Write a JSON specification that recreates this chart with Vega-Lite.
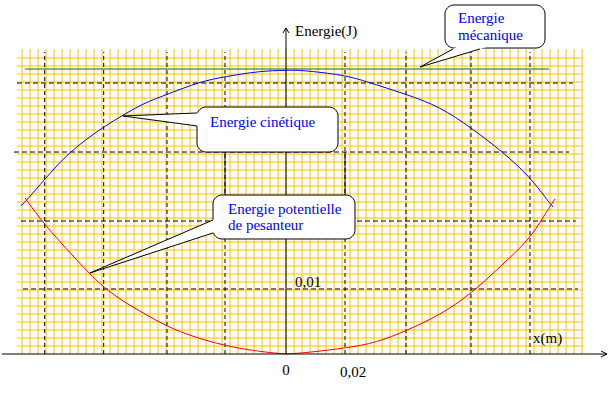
{
  "$schema": "https://vega.github.io/schema/vega-lite/v6.json",
  "width": 608,
  "height": 396,
  "autosize": "none",
  "padding": 0,
  "background": "white",
  "config": {"view": {"stroke": null}, "axis": {"disable": true}},
  "resolve": {"scale": {"color": "independent", "strokeWidth": "independent"}},
  "datasets": {
    "gridV": [
      {"x": -0.0825}, {"x": -0.08}, {"x": -0.0775}, {"x": -0.075}, {"x": -0.0725}, {"x": -0.07}, {"x": -0.0675}, {"x": -0.065}, {"x": -0.0625}, {"x": -0.06},
      {"x": -0.0575}, {"x": -0.055}, {"x": -0.0525}, {"x": -0.05}, {"x": -0.0475}, {"x": -0.045}, {"x": -0.0425}, {"x": -0.04}, {"x": -0.0375}, {"x": -0.035},
      {"x": -0.0325}, {"x": -0.03}, {"x": -0.0275}, {"x": -0.025}, {"x": -0.0225}, {"x": -0.02}, {"x": -0.0175}, {"x": -0.015}, {"x": -0.0125}, {"x": -0.01},
      {"x": -0.0075}, {"x": -0.005}, {"x": -0.0025}, {"x": 0}, {"x": 0.0025}, {"x": 0.005}, {"x": 0.0075}, {"x": 0.01}, {"x": 0.0125}, {"x": 0.015},
      {"x": 0.0175}, {"x": 0.02}, {"x": 0.0225}, {"x": 0.025}, {"x": 0.0275}, {"x": 0.03}, {"x": 0.0325}, {"x": 0.035}, {"x": 0.0375}, {"x": 0.04},
      {"x": 0.0425}, {"x": 0.045}, {"x": 0.0475}, {"x": 0.05}, {"x": 0.0525}, {"x": 0.055}, {"x": 0.0575}, {"x": 0.06}, {"x": 0.0625}, {"x": 0.065},
      {"x": 0.0675}, {"x": 0.07}, {"x": 0.0725}, {"x": 0.075}, {"x": 0.0775}, {"x": 0.08}, {"x": 0.0825}, {"x": 0.085}, {"x": 0.0875}, {"x": 0.09},
      {"x": 0.0925}
    ],
    "gridH": [
      {"y": 0.00125}, {"y": 0.0025}, {"y": 0.00375}, {"y": 0.005}, {"y": 0.00625}, {"y": 0.0075}, {"y": 0.00875}, {"y": 0.01}, {"y": 0.01125}, {"y": 0.0125},
      {"y": 0.01375}, {"y": 0.015}, {"y": 0.01625}, {"y": 0.0175}, {"y": 0.01875}, {"y": 0.02}, {"y": 0.02125}, {"y": 0.0225}, {"y": 0.02375}, {"y": 0.025},
      {"y": 0.02625}, {"y": 0.0275}, {"y": 0.02875}, {"y": 0.03}, {"y": 0.03125}, {"y": 0.0325}, {"y": 0.03375}, {"y": 0.035}, {"y": 0.03625}, {"y": 0.0375},
      {"y": 0.03875}, {"y": 0.04}, {"y": 0.04125}, {"y": 0.0425}, {"y": 0.04375}, {"y": 0.045}, {"y": 0.04625}
    ],
    "dashV": [
      {"x": -0.07541}, {"x": -0.05697}, {"x": -0.03719}, {"x": -0.01906},
      {"x": 0.01844}, {"x": 0.0375}, {"x": 0.05781}, {"x": 0.07625}
    ],
    "dashH": [
      {"y": 0.04234, "x": -0.08406, "x2": 0.08969},
      {"y": 0.03156, "x": -0.085, "x2": 0.08844},
      {"y": 0.02078, "x": -0.08281, "x2": 0.09063},
      {"y": 0.01016, "x": -0.08219, "x2": 0.09125}
    ],
    "curves": [
      {"s": "Ec", "x": -0.08281, "E": 0.02313},
      {"s": "Ec", "x": -0.08103, "E": 0.02406},
      {"s": "Ec", "x": -0.07553, "E": 0.02719},
      {"s": "Ec", "x": -0.06803, "E": 0.03152},
      {"s": "Ec", "x": -0.05697, "E": 0.03552},
      {"s": "Ec", "x": -0.05084, "E": 0.03734},
      {"s": "Ec", "x": -0.04459, "E": 0.03917},
      {"s": "Ec", "x": -0.03709, "E": 0.04058},
      {"s": "Ec", "x": -0.02688, "E": 0.04255},
      {"s": "Ec", "x": -0.01916, "E": 0.04333},
      {"s": "Ec", "x": -0.00813, "E": 0.04422},
      {"s": "Ec", "x": 0, "E": 0.04433},
      {"s": "Ec", "x": 0.00438, "E": 0.04438},
      {"s": "Ec", "x": 0.01844, "E": 0.04359},
      {"s": "Ec", "x": 0.02522, "E": 0.04255},
      {"s": "Ec", "x": 0.03759, "E": 0.04058},
      {"s": "Ec", "x": 0.04813, "E": 0.03864},
      {"s": "Ec", "x": 0.05781, "E": 0.03536},
      {"s": "Ec", "x": 0.06791, "E": 0.03152},
      {"s": "Ec", "x": 0.07616, "E": 0.0277},
      {"s": "Ec", "x": 0.08147, "E": 0.02417},
      {"s": "Ec", "x": 0.08344, "E": 0.02297},
      {"s": "Ep", "x": -0.08156, "E": 0.02438},
      {"s": "Ep", "x": -0.07553, "E": 0.02016},
      {"s": "Ep", "x": -0.06178, "E": 0.0127},
      {"s": "Ep", "x": -0.05697, "E": 0.01042},
      {"s": "Ep", "x": -0.05084, "E": 0.00817},
      {"s": "Ep", "x": -0.04353, "E": 0.00609},
      {"s": "Ep", "x": -0.03709, "E": 0.00427},
      {"s": "Ep", "x": -0.02906, "E": 0.0027},
      {"s": "Ep", "x": -0.01916, "E": 0.0013},
      {"s": "Ep", "x": -0.0103, "E": 0.00052},
      {"s": "Ep", "x": -0.00291, "E": 0.00011},
      {"s": "Ep", "x": 0, "E": 0},
      {"s": "Ep", "x": 0.00438, "E": 0.00011},
      {"s": "Ep", "x": 0.01844, "E": 0.00089},
      {"s": "Ep", "x": 0.02834, "E": 0.00177},
      {"s": "Ep", "x": 0.03759, "E": 0.00364},
      {"s": "Ep", "x": 0.04813, "E": 0.00609},
      {"s": "Ep", "x": 0.05781, "E": 0.00938},
      {"s": "Ep", "x": 0.06688, "E": 0.01364},
      {"s": "Ep", "x": 0.07616, "E": 0.01792},
      {"s": "Ep", "x": 0.08041, "E": 0.02145},
      {"s": "Ep", "x": 0.08406, "E": 0.02422},
      {"s": "Em", "x": -0.08156, "E": 0.04453},
      {"s": "Em", "x": 0.08219, "E": 0.04453}
    ],
    "axes": [
      {"id": "ax", "o": 1, "x": -0.08875, "y": 0},
      {"id": "ax", "o": 2, "x": 0.10031, "y": 0},
      {"id": "axa", "o": 1, "x": 0.09844, "y": 0.00047},
      {"id": "axa", "o": 2, "x": 0.10031, "y": 0},
      {"id": "axa", "o": 3, "x": 0.09844, "y": -0.00047},
      {"id": "ay", "o": 1, "x": 0, "y": 0},
      {"id": "ay", "o": 2, "x": 0, "y": 0.05094},
      {"id": "aya", "o": 1, "x": -0.00094, "y": 0.05016},
      {"id": "aya", "o": 2, "x": 0, "y": 0.05094},
      {"id": "aya", "o": 3, "x": 0.00094, "y": 0.05016},
      {"id": "s1", "o": 1, "x": -0.01906, "y": 0.03156},
      {"id": "s1", "o": 2, "x": -0.01906, "y": 0.02484},
      {"id": "s2", "o": 1, "x": 0.01844, "y": 0.03156},
      {"id": "s2", "o": 2, "x": 0.01844, "y": 0.02484}
    ],
    "boxes": [
      {"b": "mec", "x": 0.04969, "x2": 0.08094, "y": 0.05453, "y2": 0.04781},
      {"b": "cin", "x": -0.02781, "x2": 0.01625, "y": 0.03859, "y2": 0.03156},
      {"b": "pot", "x": -0.02281, "x2": 0.02156, "y": 0.02484, "y2": 0.01797}
    ],
    "tailV": [
      {"id": "tc", "x": -0.05094, "y": 0.03719, "y2": 0.03719},
      {"id": "tc", "x": -0.02719, "y": 0.03764, "y2": 0.03558},
      {"id": "tp", "x": -0.06125, "y": 0.01266, "y2": 0.01266},
      {"id": "tp", "x": -0.02219, "y": 0.02108, "y2": 0.01901}
    ],
    "tailH": [
      {"id": "tm", "y": 0.04484, "x": 0.04188, "x2": 0.04188},
      {"id": "tm", "y": 0.04797, "x": 0.05334, "x2": 0.06272}
    ],
    "tailEdges": [
      {"id": "tm", "o": 1, "x": 0.05219, "y": 0.04766},
      {"id": "tm", "o": 2, "x": 0.04188, "y": 0.04484},
      {"id": "tm", "o": 3, "x": 0.06063, "y": 0.04766},
      {"id": "tc", "o": 1, "x": -0.02781, "y": 0.03766},
      {"id": "tc", "o": 2, "x": -0.05094, "y": 0.03719},
      {"id": "tc", "o": 3, "x": -0.02781, "y": 0.03563},
      {"id": "tp", "o": 1, "x": -0.02281, "y": 0.02094},
      {"id": "tp", "o": 2, "x": -0.06125, "y": 0.01266},
      {"id": "tp", "o": 3, "x": -0.02281, "y": 0.01891}
    ],
    "labels": [
      {"t": "Energie(J)", "x": 0.00281, "y": 0.04969, "r": "axis"},
      {"t": "x(m)", "x": 0.07719, "y": 0.00172, "r": "axis"},
      {"t": "0", "x": -0.00119, "y": -0.00328, "r": "axis"},
      {"t": "0,02", "x": 0.01688, "y": -0.00359, "r": "axis"},
      {"t": "0,01", "x": 0.00281, "y": 0.01047, "r": "axis"},
      {"t": "Energie", "x": 0.05375, "y": 0.05172, "r": "callout"},
      {"t": "mécanique", "x": 0.05375, "y": 0.04906, "r": "callout"},
      {"t": "Energie cinétique", "x": -0.02375, "y": 0.03547, "r": "callout"},
      {"t": "Energie potentielle", "x": -0.01813, "y": 0.02188, "r": "callout"},
      {"t": "de pesanteur", "x": -0.01813, "y": 0.01938, "r": "callout"}
    ]
  },
  "layer": [
    {
      "data": {"name": "gridV"},
      "mark": {"type": "rule", "color": "#FFC000", "strokeWidth": 1},
      "encoding": {
        "x": {"field": "x", "type": "quantitative", "scale": {"domain": [-0.089375, 0.100625], "nice": false, "zero": false}},
        "y": {"datum": 0, "type": "quantitative", "scale": {"domain": [-0.0065625, 0.0553125], "nice": false, "zero": false}},
        "y2": {"datum": 0.04766}
      }
    },
    {
      "data": {"name": "gridH"},
      "mark": {"type": "rule", "color": "#FFC000", "strokeWidth": 1},
      "encoding": {
        "y": {"field": "y", "type": "quantitative", "scale": {"domain": [-0.0065625, 0.0553125], "nice": false, "zero": false}},
        "x": {"datum": -0.0841, "type": "quantitative", "scale": {"domain": [-0.089375, 0.100625], "nice": false, "zero": false}},
        "x2": {"datum": 0.0928}
      }
    },
    {
      "data": {"name": "dashV"},
      "mark": {"type": "rule", "color": "black", "strokeWidth": 1, "strokeDash": [4, 3]},
      "encoding": {
        "x": {"field": "x", "type": "quantitative", "scale": {"domain": [-0.089375, 0.100625], "nice": false, "zero": false}},
        "y": {"datum": 0, "type": "quantitative", "scale": {"domain": [-0.0065625, 0.0553125], "nice": false, "zero": false}},
        "y2": {"datum": 0.04719}
      }
    },
    {
      "data": {"name": "dashH"},
      "mark": {"type": "rule", "color": "black", "strokeWidth": 1, "strokeDash": [5, 3]},
      "encoding": {
        "y": {"field": "y", "type": "quantitative", "scale": {"domain": [-0.0065625, 0.0553125], "nice": false, "zero": false}},
        "x": {"field": "x", "type": "quantitative", "scale": {"domain": [-0.089375, 0.100625], "nice": false, "zero": false}},
        "x2": {"field": "x2"}
      }
    },
    {
      "data": {"name": "curves"},
      "mark": {"type": "line", "interpolate": "basis"},
      "encoding": {
        "x": {"field": "x", "type": "quantitative", "scale": {"domain": [-0.089375, 0.100625], "nice": false, "zero": false}},
        "y": {"field": "E", "type": "quantitative", "scale": {"domain": [-0.0065625, 0.0553125], "nice": false, "zero": false}},
        "color": {"field": "s", "type": "nominal", "scale": {"domain": ["Ec", "Ep", "Em"], "range": ["#0000FF", "#FF0000", "#007000"]}, "legend": null},
        "strokeWidth": {"field": "s", "type": "nominal", "scale": {"domain": ["Ec", "Ep", "Em"], "range": [1, 1, 3]}, "legend": null}
      }
    },
    {
      "data": {"name": "axes"},
      "mark": {"type": "line", "color": "black", "strokeWidth": 1},
      "encoding": {
        "x": {"field": "x", "type": "quantitative", "scale": {"domain": [-0.089375, 0.100625], "nice": false, "zero": false}},
        "y": {"field": "y", "type": "quantitative", "scale": {"domain": [-0.0065625, 0.0553125], "nice": false, "zero": false}},
        "detail": {"field": "id", "type": "nominal"},
        "order": {"field": "o", "type": "quantitative"}
      }
    },
    {
      "data": {"name": "boxes"},
      "mark": {"type": "rect", "fill": "white", "stroke": "black", "strokeWidth": 1, "cornerRadius": 9},
      "encoding": {
        "x": {"field": "x", "type": "quantitative", "scale": {"domain": [-0.089375, 0.100625], "nice": false, "zero": false}},
        "x2": {"field": "x2"},
        "y": {"field": "y", "type": "quantitative", "scale": {"domain": [-0.0065625, 0.0553125], "nice": false, "zero": false}},
        "y2": {"field": "y2"}
      }
    },
    {
      "data": {"name": "tailV"},
      "mark": {"type": "area", "orient": "vertical", "fill": "white", "opacity": 1},
      "encoding": {
        "x": {"field": "x", "type": "quantitative", "scale": {"domain": [-0.089375, 0.100625], "nice": false, "zero": false}},
        "y": {"field": "y", "type": "quantitative", "scale": {"domain": [-0.0065625, 0.0553125], "nice": false, "zero": false}},
        "y2": {"field": "y2"},
        "detail": {"field": "id", "type": "nominal"}
      }
    },
    {
      "data": {"name": "tailH"},
      "mark": {"type": "area", "orient": "horizontal", "fill": "white", "opacity": 1},
      "encoding": {
        "y": {"field": "y", "type": "quantitative", "scale": {"domain": [-0.0065625, 0.0553125], "nice": false, "zero": false}},
        "x": {"field": "x", "type": "quantitative", "scale": {"domain": [-0.089375, 0.100625], "nice": false, "zero": false}},
        "x2": {"field": "x2"},
        "detail": {"field": "id", "type": "nominal"}
      }
    },
    {
      "data": {"name": "tailEdges"},
      "mark": {"type": "line", "color": "black", "strokeWidth": 1},
      "encoding": {
        "x": {"field": "x", "type": "quantitative", "scale": {"domain": [-0.089375, 0.100625], "nice": false, "zero": false}},
        "y": {"field": "y", "type": "quantitative", "scale": {"domain": [-0.0065625, 0.0553125], "nice": false, "zero": false}},
        "detail": {"field": "id", "type": "nominal"},
        "order": {"field": "o", "type": "quantitative"}
      }
    },
    {
      "data": {"name": "labels"},
      "transform": [{"filter": "datum.r === 'axis'"}],
      "mark": {"type": "text", "align": "left", "baseline": "alphabetic", "font": "Liberation Serif", "fontSize": 15, "color": "black"},
      "encoding": {
        "x": {"field": "x", "type": "quantitative", "scale": {"domain": [-0.089375, 0.100625], "nice": false, "zero": false}},
        "y": {"field": "y", "type": "quantitative", "scale": {"domain": [-0.0065625, 0.0553125], "nice": false, "zero": false}},
        "text": {"field": "t", "type": "nominal"}
      }
    },
    {
      "data": {"name": "labels"},
      "transform": [{"filter": "datum.r === 'callout'"}],
      "mark": {"type": "text", "align": "left", "baseline": "alphabetic", "font": "Liberation Serif", "fontSize": 15, "color": "#0000FF"},
      "encoding": {
        "x": {"field": "x", "type": "quantitative", "scale": {"domain": [-0.089375, 0.100625], "nice": false, "zero": false}},
        "y": {"field": "y", "type": "quantitative", "scale": {"domain": [-0.0065625, 0.0553125], "nice": false, "zero": false}},
        "text": {"field": "t", "type": "nominal"}
      }
    }
  ]
}
